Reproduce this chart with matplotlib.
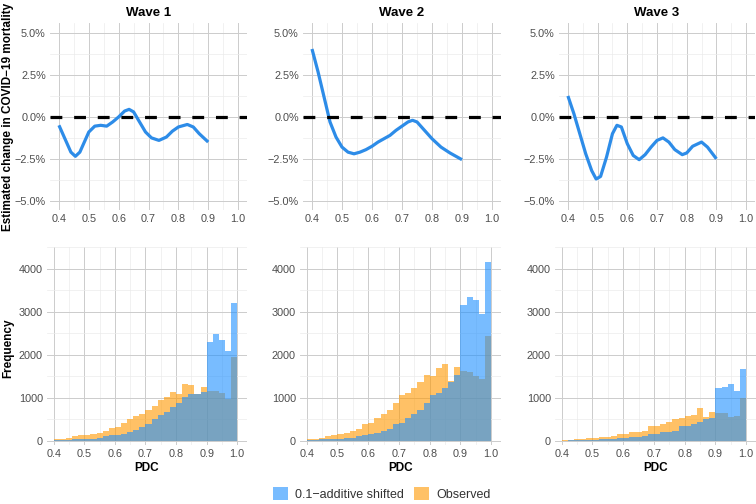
import numpy as np
import matplotlib
matplotlib.use('Agg')
import matplotlib.pyplot as plt
from matplotlib.patches import Patch
from matplotlib.ticker import FuncFormatter

plt.rcParams['font.family'] = ['Liberation Sans', 'DejaVu Sans']

waves = ['Wave 1', 'Wave 2', 'Wave 3']

# estimated change curves (PDC, % change)
w1_x = [0.40, 0.42, 0.44, 0.455, 0.47, 0.50, 0.52, 0.54, 0.56, 0.58, 0.60, 0.62, 0.635, 0.65,
        0.67, 0.69, 0.71, 0.735, 0.76, 0.78, 0.80, 0.83, 0.85, 0.87, 0.90]
w1_y = [-0.5, -1.3, -2.1, -2.35, -2.1, -0.9, -0.55, -0.5, -0.55, -0.3, 0.0, 0.35, 0.45, 0.3,
        -0.3, -0.9, -1.25, -1.4, -1.2, -0.85, -0.6, -0.45, -0.6, -1.0, -1.5]
w2_x = [0.40, 0.42, 0.44, 0.46, 0.48, 0.50, 0.52, 0.54, 0.56, 0.58, 0.60, 0.62, 0.64, 0.66,
        0.68, 0.70, 0.72, 0.735, 0.75, 0.77, 0.80, 0.83, 0.86, 0.90]
w2_y = [4.05, 2.7, 1.2, -0.3, -1.2, -1.8, -2.1, -2.2, -2.1, -1.95, -1.75, -1.5, -1.3, -1.1,
        -0.8, -0.55, -0.3, -0.2, -0.3, -0.7, -1.3, -1.8, -2.15, -2.55]
w3_x = [0.40, 0.42, 0.44, 0.46, 0.48, 0.495, 0.51, 0.53, 0.55, 0.565, 0.58, 0.60, 0.62, 0.64,
        0.66, 0.68, 0.70, 0.72, 0.74, 0.76, 0.785, 0.80, 0.82, 0.85, 0.87, 0.90]
w3_y = [1.25, 0.2, -1.0, -2.2, -3.2, -3.7, -3.55, -2.4, -1.0, -0.5, -0.6, -1.6, -2.3, -2.55,
        -2.25, -1.8, -1.4, -1.25, -1.5, -1.95, -2.25, -2.15, -1.75, -1.5, -1.8, -2.5]

# histogram bins (left edges, width 0.02)
bin_left = [0.40, 0.42, 0.44, 0.46, 0.48, 0.50, 0.52, 0.54, 0.56, 0.58,
            0.60, 0.62, 0.64, 0.66, 0.68, 0.70, 0.72, 0.74, 0.76, 0.78,
            0.80, 0.82, 0.84, 0.86, 0.88, 0.90, 0.92, 0.94, 0.96, 0.98]
obs_w1 = [40, 55, 80, 120, 150, 140, 170, 190, 240, 310,
          330, 420, 520, 580, 620, 720, 820, 950, 1030, 1150,
          1100, 1320, 1300, 1100, 1250, 1170, 1170, 1110, 970, 1960]
shift_w1 = [20, 25, 30, 35, 40, 45, 50, 70, 115, 140,
            145, 170, 200, 250, 320, 400, 520, 600, 680, 780,
            880, 1020, 1100, 1090, 1150, 2290, 2490, 2350, 2100, 3210]
obs_w2 = [45, 55, 70, 115, 150, 165, 190, 240, 280, 400,
          410, 530, 630, 720, 880, 1060, 1110, 1230, 1360, 1530,
          1520, 1690, 1800, 1390, 1720, 1630, 1615, 1500, 1440, 2430]
shift_w2 = [20, 25, 35, 40, 50, 55, 60, 80, 120, 150,
            165, 190, 240, 280, 400, 410, 530, 630, 720, 880,
            1060, 1110, 1230, 1360, 1540, 3170, 3340, 3285, 2950, 4155]
obs_w3 = [25, 30, 40, 55, 75, 70, 85, 95, 115, 155,
          170, 200, 215, 230, 350, 355, 395, 435, 510, 545,
          580, 610, 760, 565, 675, 645, 645, 565, 580, 990]
shift_w3 = [10, 12, 15, 20, 25, 28, 35, 40, 55, 75,
            70, 85, 95, 115, 155, 170, 200, 215, 230, 350,
            355, 395, 435, 510, 545, 1225, 1255, 1320, 1170, 1675]

curves = [(w1_x, w1_y), (w2_x, w2_y), (w3_x, w3_y)]
hists = [(obs_w1, shift_w1), (obs_w2, shift_w2), (obs_w3, shift_w3)]

blue = '#1E90FF'
orange = '#FF9900'
line_blue = '#2D8CE8'
tick_col = '#4D4D4D'

fig = plt.figure(figsize=(7.56, 5.04), dpi=100)


def px_axes(left, top, right, bottom):
    return fig.add_axes([left / 756, 1 - bottom / 504, (right - left) / 756, (bottom - top) / 504])


def style(ax):
    for s in ax.spines.values():
        s.set_visible(False)
    ax.set_xticks([0.4, 0.5, 0.6, 0.7, 0.8, 0.9, 1.0])
    ax.set_xticks([0.45, 0.55, 0.65, 0.75, 0.85, 0.95], minor=True)
    ax.xaxis.set_major_formatter(FuncFormatter(lambda v, p: '%.1f' % v))
    ax.grid(which='major', color='#CCCCCC', lw=0.7)
    ax.grid(which='minor', color='#EBEBEB', lw=0.5)
    ax.set_axisbelow(True)
    ax.tick_params(which='both', length=0, labelsize=7.8, labelcolor=tick_col, pad=3)


top_pos = [(50, 23, 247, 210), (303, 23, 501, 210), (559, 23, 755, 210)]
bot_pos = [(47, 247, 247, 445), (300, 247, 501, 445), (555, 247, 756, 445)]

for i in range(3):
    ax = px_axes(*top_pos[i])
    style(ax)
    x, y = curves[i]
    ax.plot(x, y, color=line_blue, lw=2.3, solid_capstyle='butt', solid_joinstyle='round', zorder=3)
    ax.axhline(0, color='black', lw=2.3, linestyle=(0, (3.7, 3.7)), zorder=4)
    ax.set_xlim(0.37, 1.03)
    ax.set_ylim(-5.55, 5.6)
    ax.set_yticks([-5, -2.5, 0, 2.5, 5])
    ax.set_yticks([-3.75, -1.25, 1.25, 3.75], minor=True)
    ax.yaxis.set_major_formatter(FuncFormatter(lambda v, p: ('%.1f%%' % v).replace('-', '\u2212')))
    ax.set_title(waves[i], fontsize=9.5, fontweight='bold', pad=5)

    bx = px_axes(*bot_pos[i])
    style(bx)
    obs, shift = hists[i]
    bx.bar(bin_left, obs, width=0.02, align='edge', color=orange, alpha=0.6, lw=0)
    bx.bar(bin_left, shift, width=0.02, align='edge', color=blue, alpha=0.6, lw=0)
    bx.set_xlim(0.378, 1.032)
    bx.set_ylim(-93, 4510)
    bx.set_yticks([0, 1000, 2000, 3000, 4000])
    bx.set_yticks([500, 1500, 2500, 3500, 4500], minor=True)
    bx.set_xlabel('PDC', fontsize=8.5, fontweight='bold', labelpad=2)

fig.text(0.011, 1 - 117 / 504, 'Estimated change in COVID\u221219 mortality', rotation=90,
         ha='center', va='center', fontsize=8.5, fontweight='bold')
fig.text(0.011, 1 - 348 / 504, 'Frequency', rotation=90,
         ha='center', va='center', fontsize=8.5, fontweight='bold')

handles = [Patch(facecolor=blue, alpha=0.6, lw=0), Patch(facecolor=orange, alpha=0.6, lw=0)]
fig.legend(handles, ['0.1\u2212additive shifted', 'Observed'], loc='center', ncol=2,
           bbox_to_anchor=(0.505, 1 - 494 / 504), frameon=False, fontsize=9,
           handlelength=1.2, handleheight=1.2, handletextpad=0.6, columnspacing=0.8,
           labelcolor='#333333')

fig.savefig('out.png', dpi=100)
